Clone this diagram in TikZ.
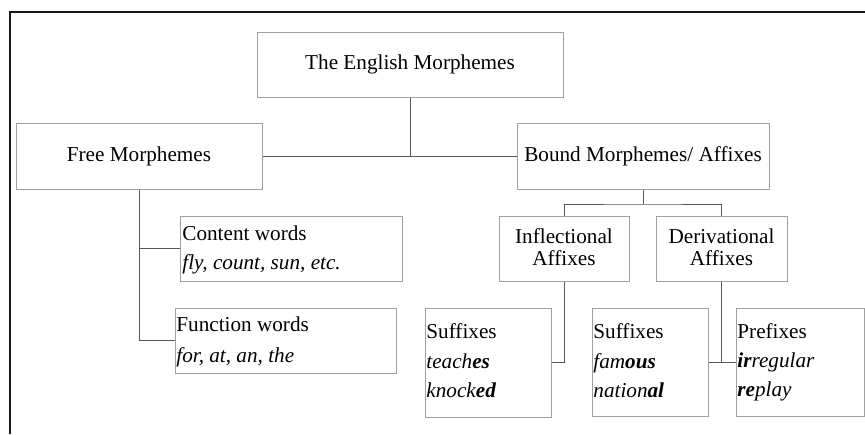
\documentclass[tikz,border=0pt]{standalone}
\usepackage{fontspec}
\setmainfont{Liberation Serif}
\usetikzlibrary{fit,calc}
\definecolor{boxgray}{HTML}{A0A0A0}
\definecolor{linegray}{HTML}{585858}
\begin{document}
\begin{tikzpicture}[x=0.5pt,y=-0.5pt,
  box/.style={draw=boxgray,line width=0.5pt,inner sep=0pt},
  ctxt/.style={inner sep=0pt,anchor=center,align=center,font=\fontsize{10.6}{11}\selectfont},
  txt/.style={inner sep=0pt,anchor=base west,font=\fontsize{10.6}{14.5}\selectfont},
  conn/.style={draw=linegray,line width=0.5pt}]
\useasboundingbox (0,0) rectangle (865,434);
\fill[white] (0,0) rectangle (865,434);
% frame
\draw[line width=0.8pt,black!90] (10,434) -- (10,12) -- (865,12);
% boxes
\node[box,fit={(257,32) (563,97)}] (top) {};
\node[box,fit={(16,123) (262,189)}] (free) {};
\node[box,fit={(517,123) (769,189)}] (bound) {};
\node[box,fit={(499,216) (629,281)}] (infl) {};
\node[box,fit={(656,216) (787,281)}] (deriv) {};
\node[box,fit={(180,216) (402,281)}] (cont) {};
\node[box,fit={(175,308) (396,373)}] (func) {};
\node[box,fit={(425,308) (551,417)}] (sufa) {};
\node[box,fit={(592,308) (708,416)}] (sufb) {};
\node[box,fit={(736,308) (864,416)}] (pre) {};
% centred texts
\node[ctxt] (topT) at (top.center) {The English Morphemes};
\node[ctxt] (freeT) at (free.center) {Free Morphemes};
\node[ctxt] (boundT) at (bound.center) {Bound Morphemes/ Affixes};
\node[ctxt] (inflT) at ($(infl.center)+(0,-1)$) {Inflectional\\Affixes};
\node[ctxt] (derivT) at ($(deriv.center)+(0,-1)$) {Derivational\\Affixes};
% left texts
\node[txt] (cont1) at (182,240) {Content words};
\node[txt] (cont2) at (182,269) {\textit{fly, count, sun, etc.}};
\node[txt] (func1) at (176,331) {Function words};
\node[txt] (func2) at (176,362) {\textit{for, at, an, the}};
\node[txt] (sufa1) at (426,338) {Suffixes};
\node[txt] (sufa2) at (426,368) {\textit{teach\textbf{es}}};
\node[txt] (sufa3) at (426,397) {\textit{knock\textbf{ed}}};
\node[txt] (sufb1) at (593,338) {Suffixes};
\node[txt] (sufb2) at (593,368) {\textit{fam\textbf{ous}}};
\node[txt] (sufb3) at (593,397) {\textit{nation\textbf{al}}};
\node[txt] (pre1) at (737,338) {Prefixes};
\node[txt] (pre2) at (737,367) {\textit{\textbf{ir}regular}};
\node[txt] (pre3) at (737,396) {\textit{\textbf{re}play}};
% connectors
\coordinate (tj) at (410,156);
\coordinate (bj) at (643,204);
\draw[conn] (free.east) -- (bound.west);
\draw[conn] (top.south) -- (tj);
\draw[conn] (bound.south) -- (bj);
\draw[conn] (infl.north) |- (bj) -| (deriv.north);
\draw[conn] (free.south) |- (cont.west);
\draw[conn] (free.south) |- (func.west);
\draw[conn] (infl.south) |- (sufa.east);
\draw[conn] (deriv.south) |- (sufb.east);
\draw[conn] (deriv.south) |- (pre.west);
\end{tikzpicture}
\end{document}
